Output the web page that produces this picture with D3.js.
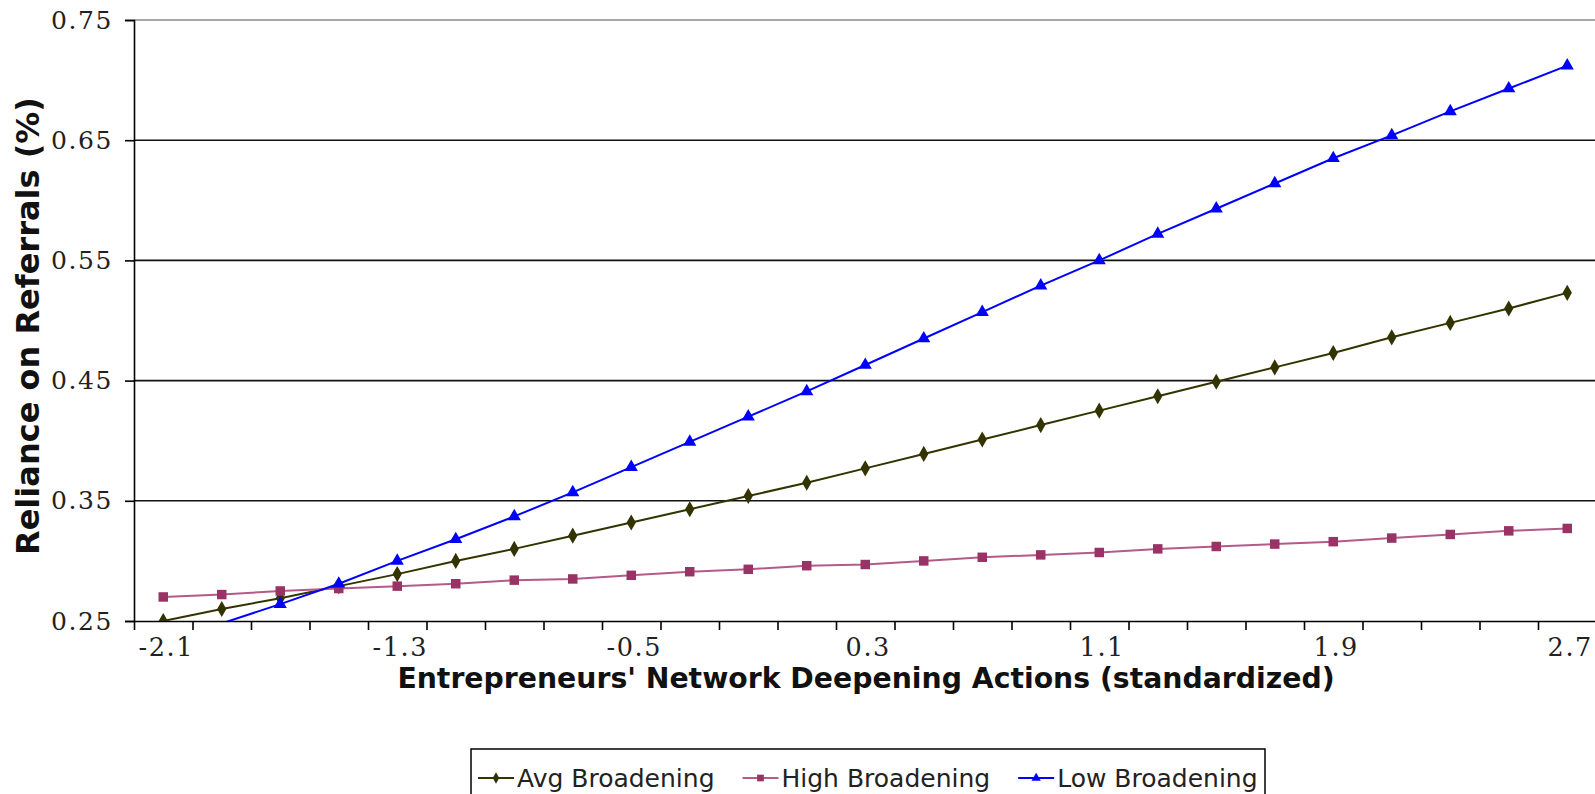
<!DOCTYPE html>
<html>
<head>
<meta charset="utf-8">
<script src="https://cdn.jsdelivr.net/npm/d3@7"></script>
<style>
  html, body { margin: 0; padding: 0; background: #ffffff; }
  svg { display: block; }
</style>
</head>
<body>
<svg id="chart" width="1595" height="794"></svg>
<script>
// Standardized deepening-action values (x categories)
const categories = ["-2.1","-1.9","-1.7","-1.5","-1.3","-1.1","-0.9","-0.7","-0.5","-0.3","-0.1","0.1","0.3",
                    "0.5","0.7","0.9","1.1","1.3","1.5","1.7","1.9","2.1","2.3","2.5","2.7"];
const xTickLabels = ["-2.1","-1.3","-0.5","0.3","1.1","1.9","2.7"];
const yTickValues = [0.25, 0.35, 0.45, 0.55, 0.65, 0.75];

// Predicted reliance on referrals by level of network broadening
const avgBroadening  = [0.250,0.260,0.269,0.279,0.289,0.300,0.310,0.321,0.332,0.343,0.354,0.365,0.377,
                        0.389,0.401,0.413,0.425,0.437,0.449,0.461,0.473,0.486,0.498,0.510,0.523];
const highBroadening = [0.270,0.272,0.275,0.277,0.279,0.281,0.284,0.285,0.288,0.291,0.293,0.296,0.297,
                        0.300,0.303,0.305,0.307,0.310,0.312,0.314,0.316,0.319,0.322,0.325,0.327];
const lowBroadening  = [0.233,0.248,0.264,0.281,0.300,0.318,0.337,0.357,0.378,0.399,0.420,0.441,0.463,
                        0.485,0.507,0.529,0.550,0.572,0.593,0.614,0.635,0.654,0.674,0.693,0.712];
const seriesNames = ["Avg Broadening", "High Broadening", "Low Broadening"];

const series = [
  { name: seriesNames[0], values: avgBroadening,  line: "#333300", fill: "#333300", symbol: d3.symbolDiamond,  size: 75 },
  { name: seriesNames[1], values: highBroadening, line: "#b35a88", fill: "#993366", symbol: d3.symbolSquare,   size: 90 },
  { name: seriesNames[2], values: lowBroadening,  line: "#0000ff", fill: "#0000ff", symbol: d3.symbolTriangle, size: 75 }
];

const plot = { left: 134, top: 20, width: 1462.5, height: 601 };
const svg = d3.select("#chart");

const x = d3.scaleBand().domain(categories).range([plot.left, plot.left + plot.width]).padding(0);
const xEdge = d3.scaleLinear().domain([0, categories.length]).range([plot.left, plot.left + plot.width]);
const y = d3.scaleLinear().domain([0.25, 0.75]).range([plot.top + plot.height, plot.top]);
const cx = c => x(c) + x.bandwidth() / 2;

svg.append("defs").append("clipPath").attr("id", "plotClip")
  .append("rect")
  .attr("x", plot.left).attr("y", plot.top)
  .attr("width", plot.width).attr("height", plot.height);

// Plot-area frame (top edge) and horizontal gridlines
svg.append("line")
  .attr("x1", plot.left).attr("x2", plot.left + plot.width)
  .attr("y1", y(0.75)).attr("y2", y(0.75))
  .attr("stroke", "#8a8a8a").attr("stroke-width", 1.5);

svg.append("g")
  .selectAll("line")
  .data(yTickValues.filter(v => v > 0.25 && v < 0.75))
  .join("line")
  .attr("x1", plot.left).attr("x2", plot.left + plot.width)
  .attr("y1", d => y(d)).attr("y2", d => y(d))
  .attr("stroke", "#111").attr("stroke-width", 1.6);

// Y axis
const yAxis = svg.append("g")
  .attr("transform", `translate(${plot.left},0)`)
  .call(d3.axisLeft(y).tickValues(yTickValues).tickFormat(d3.format(".2f")).tickSize(9).tickPadding(12));
yAxis.select(".domain").attr("stroke", "#000").attr("stroke-width", 1.6);
yAxis.selectAll(".tick line").attr("stroke", "#000").attr("stroke-width", 1.6);
yAxis.selectAll(".tick text")
  .attr("font-family", "'DejaVu Serif', serif").attr("font-size", 25)
  .attr("letter-spacing", "1.6px").attr("fill", "#222");

// X axis: tick marks between categories, labels at every fourth category
const xTicks = svg.append("g")
  .attr("transform", `translate(0,${plot.top + plot.height})`)
  .call(d3.axisBottom(xEdge).tickValues(d3.range(categories.length + 1)).tickFormat("").tickSize(9).tickSizeOuter(0));
xTicks.select(".domain").attr("stroke", "#000").attr("stroke-width", 1.6);
xTicks.selectAll(".tick line").attr("stroke", "#000").attr("stroke-width", 1.6);

const xLabels = svg.append("g")
  .attr("transform", `translate(0,${plot.top + plot.height})`)
  .call(d3.axisBottom(x).tickValues(xTickLabels).tickSize(0).tickPadding(17));
xLabels.select(".domain").remove();
xLabels.selectAll(".tick text")
  .attr("dx", 3)
  .attr("font-family", "'DejaVu Serif', serif").attr("font-size", 25.5)
  .attr("letter-spacing", "1.6px").attr("fill", "#222");

// Series lines and markers
const line = d3.line()
  .x((d, i) => cx(categories[i]))
  .y(d => y(d));

const seriesG = svg.append("g").attr("clip-path", "url(#plotClip)");
series.forEach(s => {
  seriesG.append("path")
    .datum(s.values)
    .attr("d", line)
    .attr("fill", "none")
    .attr("stroke", s.line)
    .attr("stroke-width", 2);
  seriesG.append("g")
    .selectAll("path")
    .data(s.values.map((v, i) => ({ v, c: categories[i] })).filter(d => d.v >= 0.25))
    .join("path")
    .attr("transform", d => `translate(${cx(d.c)},${y(d.v)})`)
    .attr("d", d3.symbol().type(s.symbol).size(s.size))
    .attr("fill", s.fill);
});

// Axis titles
svg.append("text")
  .attr("x", 866).attr("y", 688)
  .attr("text-anchor", "middle")
  .attr("font-family", "'DejaVu Sans', sans-serif").attr("font-weight", "bold").attr("font-size", 28.3)
  .attr("fill", "#111")
  .text("Entrepreneurs' Network Deepening Actions (standardized)");

svg.append("text")
  .attr("transform", "translate(39,326) rotate(-90)")
  .attr("text-anchor", "middle")
  .attr("font-family", "'DejaVu Sans', sans-serif").attr("font-weight", "bold").attr("font-size", 32)
  .attr("fill", "#111")
  .text("Reliance on Referrals (%)");

// Legend
const legend = svg.append("g");
legend.append("rect")
  .attr("x", 471).attr("y", 749).attr("width", 794).attr("height", 70)
  .attr("fill", "#fff").attr("stroke", "#000").attr("stroke-width", 1.5);

let lx = 478;
const ly = 778;
series.forEach(s => {
  const item = legend.append("g");
  item.append("line")
    .attr("x1", lx).attr("x2", lx + 36).attr("y1", ly).attr("y2", ly)
    .attr("stroke", s.line).attr("stroke-width", 2);
  item.append("path")
    .attr("transform", `translate(${lx + 18},${ly})`)
    .attr("d", d3.symbol().type(s.symbol).size(s.size * 0.5))
    .attr("fill", s.fill);
  const t = item.append("text")
    .attr("x", lx + 39).attr("y", ly).attr("dy", "0.35em")
    .attr("font-family", "'DejaVu Sans', sans-serif")
    .attr("font-size", 25).attr("fill", "#222")
    .text(s.name);
  lx += 39 + t.node().getComputedTextLength() + 28;
});
</script>
</body>
</html>
